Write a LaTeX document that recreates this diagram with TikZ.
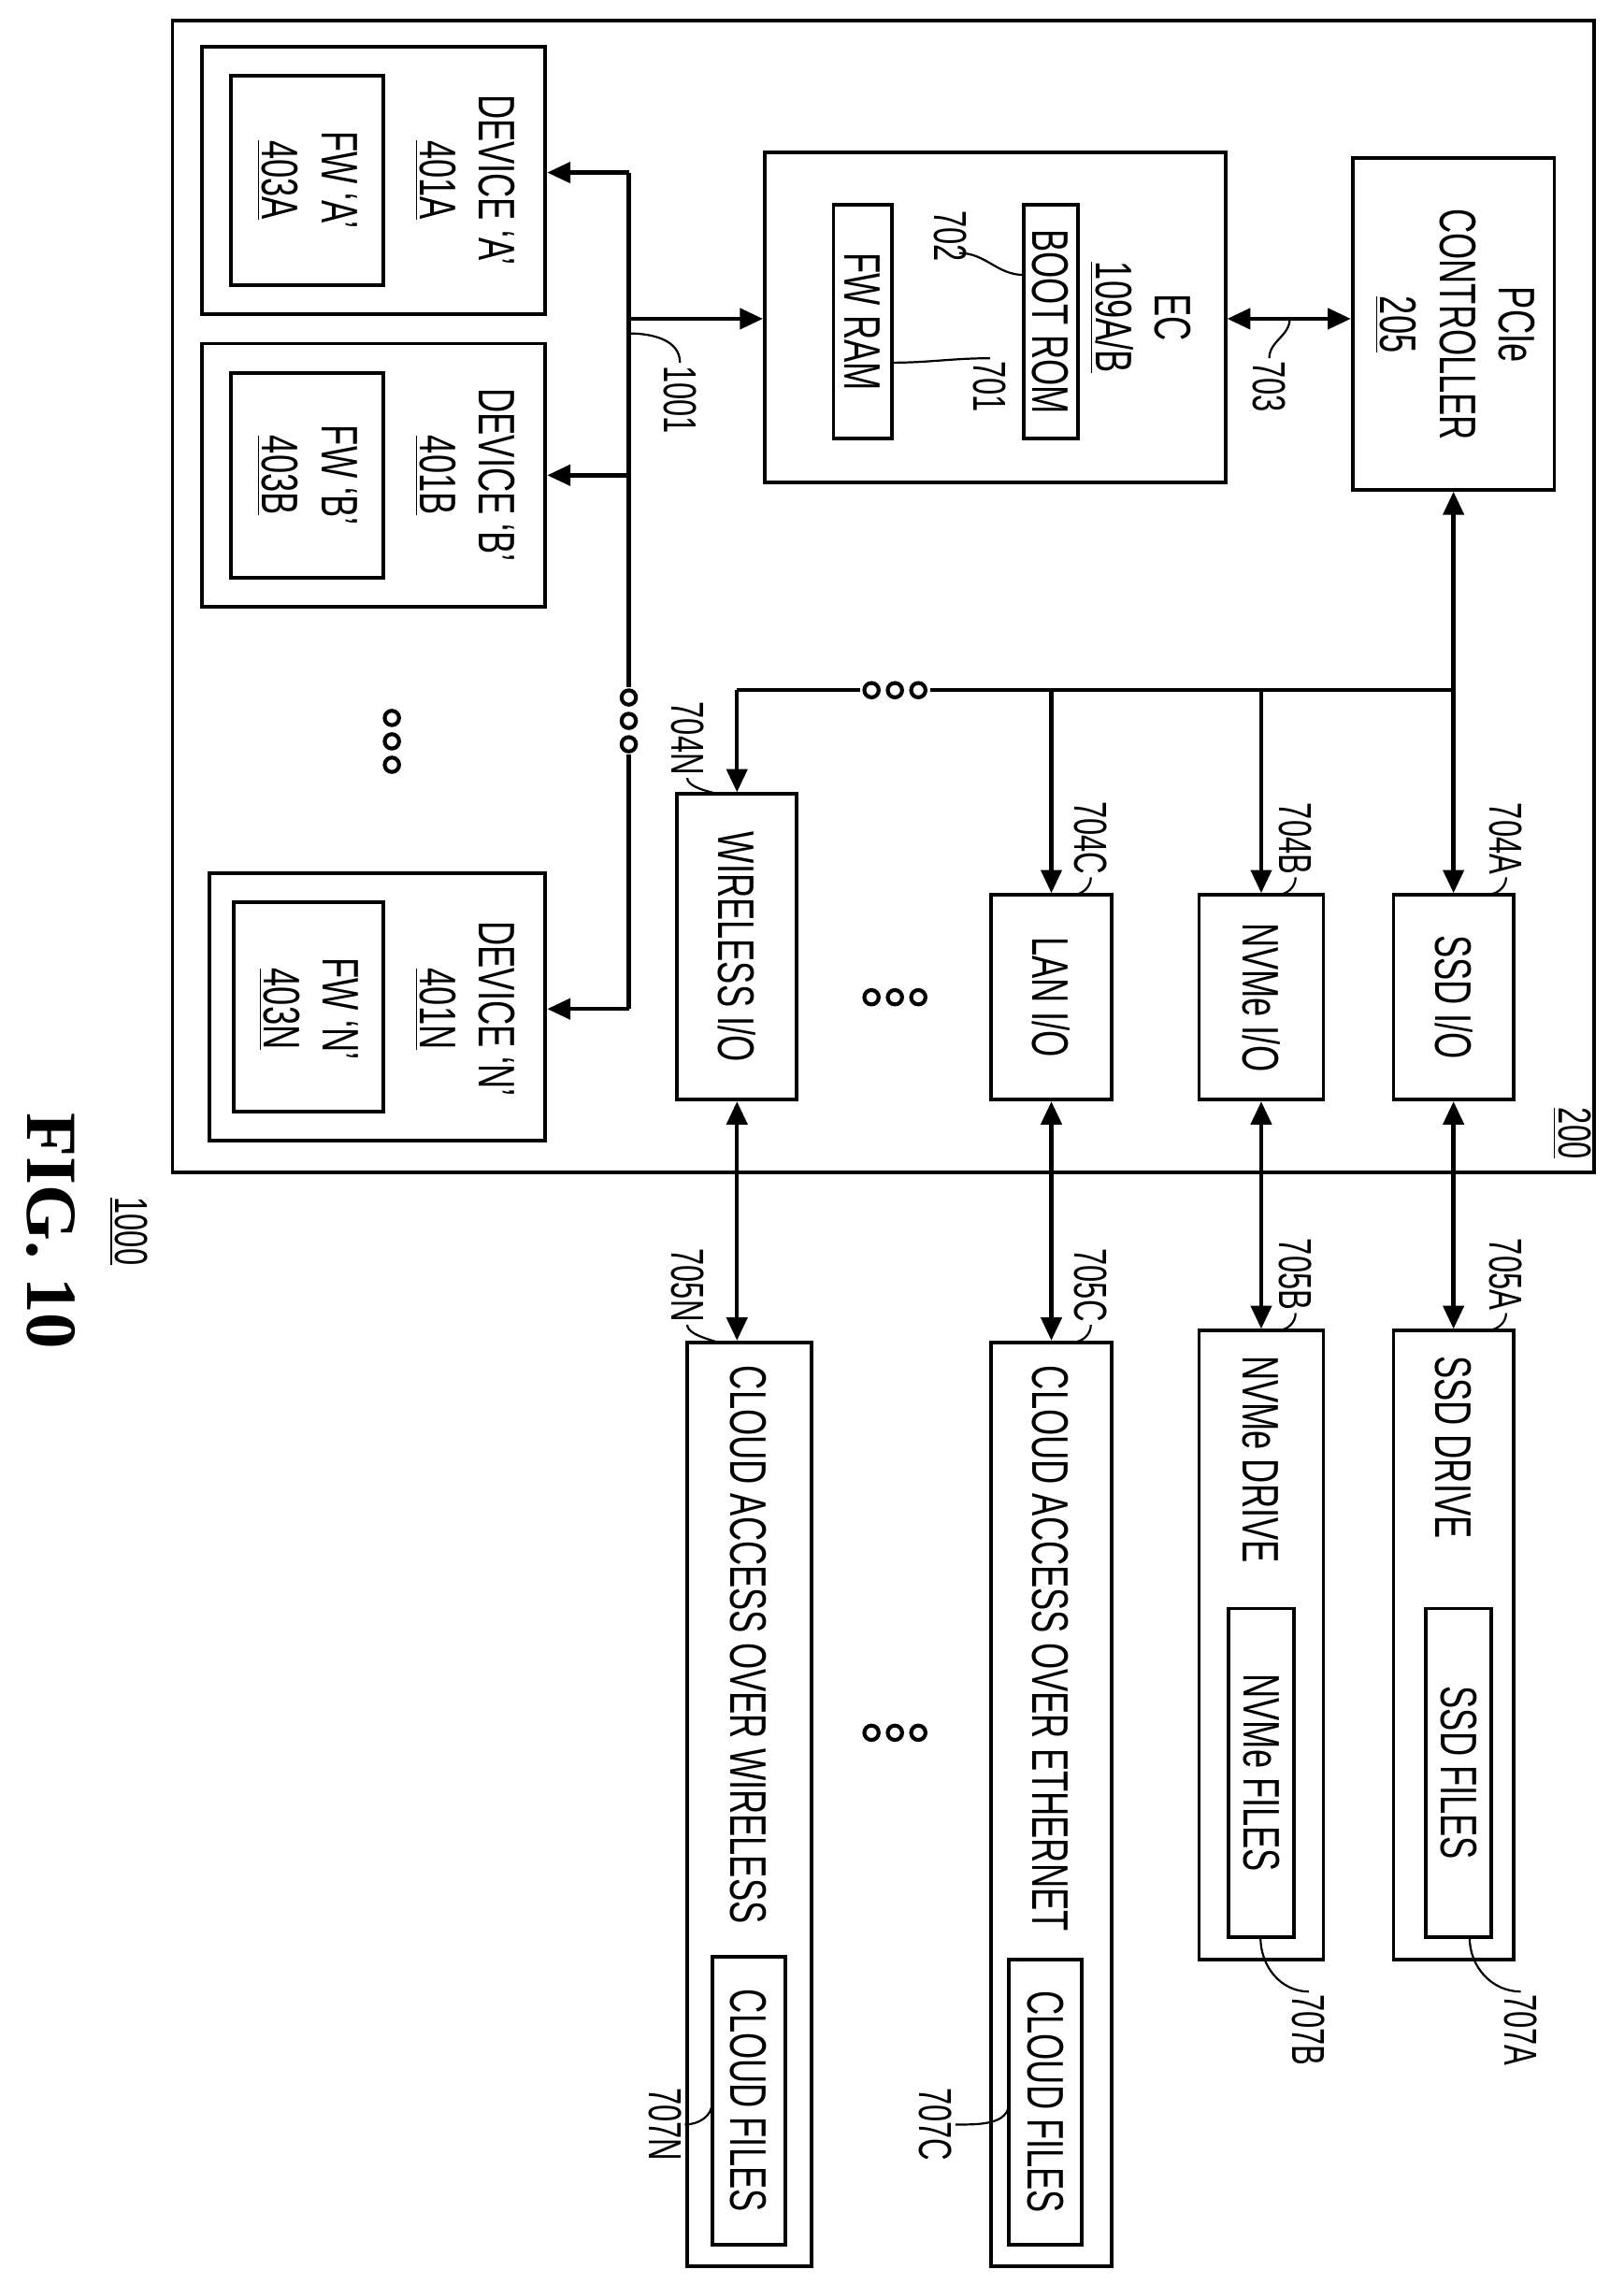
\documentclass[tikz,border=0pt]{standalone}
\usepackage{fontspec}
\setmainfont{Liberation Sans}
\newfontfamily\lblfont[FakeStretch=0.66]{Liberation Sans}
\newfontfamily\figfont{Liberation Serif}
\usetikzlibrary{arrows.meta, positioning, fit}

\tikzset{
  box/.style={draw, line width=1.4pt, fill=white, inner sep=0pt},
  txt/.style={rotate=-90, font=\fontsize{20}{23}\selectfont\lblfont, align=center, inner sep=1pt},
  num/.style={rotate=-90, font=\fontsize{18}{20}\selectfont\lblfont, inner sep=1pt},
  link/.style={line width=1.6pt, -{Triangle[length=9pt,width=8pt]}},
  dlink/.style={line width=1.6pt, {Triangle[length=9pt,width=8pt]}-{Triangle[length=9pt,width=8pt]}},
  lead/.style={line width=0.8pt},
  dotc/.style={line width=1.5pt}
}
\newcommand\dotsrow[1]{\foreach \d in {-1,0,1} \draw[dotc, shift={#1}] (\d*16,0) circle (2.8pt);}
\newcommand\dotscol[1]{\foreach \d in {-1,0,1} \draw[dotc, shift={#1}] (0,\d*16) circle (2.8pt);}

\begin{document}
\begin{tikzpicture}[x=0.02cm, y=-0.02cm]
  \useasboundingbox (0,0) rectangle (1110,1562);

  % system 200
  \node[box, fit={(118,14)(1090,802)}] (sys) {};
  \node[num] (l200) at (1075,775) {\underline{200}};

  % devices
  \node[box, fit={(138,32)(373,215)}] (devA) {};
  \node[box, fit={(158,52)(262,195)}] (fwA) {};
  \node[txt] (devAt) at (318,123) {DEVICE ‘A’\\\underline{401A}};
  \node[txt] (fwAt) at (210,123) {FW ‘A’\\\underline{403A}};

  \node[box, fit={(138,235)(373,415)}] (devB) {};
  \node[box, fit={(158,255)(262,395)}] (fwB) {};
  \node[txt] (devBt) at (318,325) {DEVICE ‘B’\\\underline{401B}};
  \node[txt] (fwBt) at (210,325) {FW ‘B’\\\underline{403B}};

  \node[box, fit={(143,597)(373,780)}] (devN) {};
  \node[box, fit={(160,617)(262,760)}] (fwN) {};
  \node[txt] (devNt) at (318,690) {DEVICE ‘N’\\\underline{401N}};
  \node[txt] (fwNt) at (211,690) {FW ‘N’\\\underline{403N}};
  \dotscol{(268,507)}

  % EC
  \node[box, fit={(523,104)(838,330)}] (ec) {};
  \node[txt] (ect) at (780,217) {EC\\\underline{109A/B}};
  \node[box, fit={(700,140)(737,300)}] (rom) {};
  \node[txt] at (rom.center) {BOOT ROM};
  \node[box, fit={(570,140)(610,300)}] (ram) {};
  \node[txt] at (ram.center) {FW RAM};
  \node[num, anchor=west] (l702) at (650,142) {702};
  \draw[lead] (l702.east) ++(6,-8) to[out=0,in=180] (700,188);
  \node[num, anchor=west] (l701) at (677,245) {701};
  \draw[lead] (610,248) to[out=0,in=180] (l701.west);

  % PCIe controller
  \node[box, fit={(925,108)(1063,335)}] (pcie) {};
  \node[txt] (pciet) at (995,222) {PCIe\\CONTROLLER\\\underline{205}};
  \draw[dlink] (ec.east |- 0,218) -- (pcie.west |- 0,218);
  \node[num, anchor=west] (l703) at (868,245) {703};
  \draw[lead] (882,218) to[out=-90,in=90] (l703.west);

  % device bus
  \coordinate (bA) at (430,118);
  \coordinate (bE) at (430,218);
  \coordinate (bB) at (430,325);
  \coordinate (bN) at (430,690);
  \draw[line width=1.6pt] (bA) -- (430,470) (430,516) -- (bN);
  \dotscol{(430,493)}
  \draw[link] (bA) -- (bA -| devA.east);
  \draw[link] (bB) -- (bB -| devB.east);
  \draw[link] (bN) -- (bN -| devN.east);
  \draw[link] (bE) -- (bE -| ec.west);
  \node[num, anchor=west] (l1001) at (465,248) {1001};
  \draw[lead] (430,228) to[out=0,in=90] (l1001.west);

  % I/O blocks
  \node[box, fit={(953,612)(1035,752)}] (ssdio) {};
  \node[txt] at (ssdio.center) {SSD I/O};
  \node[box, fit={(820,612)(905,752)}] (nvmeio) {};
  \node[txt] at (nvmeio.center) {NVMe I/O};
  \node[box, fit={(678,612)(760,752)}] (lanio) {};
  \node[txt] at (lanio.center) {LAN I/O};
  \node[box, fit={(463,543)(545,752)}] (wlio) {};
  \node[txt] at (wlio.center) {WIRELESS I/O};
  \dotsrow{(612,682)}

  % I/O bus
  \coordinate (pj) at (994,472);
  \draw[dlink] (pcie.south) -- (ssdio.north);
  \draw[line width=1.6pt] (pj) -- (636,472) (588,472) -- (504,472);
  \dotsrow{(612,472)}
  \draw[link] (nvmeio.north |- pj) -- (nvmeio.north);
  \draw[link] (lanio.north |- pj) -- (lanio.north);
  \draw[link] (504,472) -- (wlio.north);

  \node[num, anchor=east] (l704a) at (1030,600) {704A};
  \draw[lead] (l704a.east) to[out=-90,in=0] (1016,612);
  \node[num, anchor=east] (l704b) at (886,600) {704B};
  \draw[lead] (l704b.east) to[out=-90,in=0] (873,612);
  \node[num, anchor=east] (l704c) at (746,600) {704C};
  \draw[lead] (l704c.east) to[out=-90,in=0] (733,612);
  \node[num, anchor=east] (l704n) at (470,532) {704N};
  \draw[lead] (l704n.east) to[out=-90,in=0] (488,543);

  % drives
  \node[box, fit={(953,910)(1035,1340)}] (ssddr) {};
  \node[txt, anchor=west] at (994,925) {SSD DRIVE};
  \node[box, fit={(975,1100)(1020,1325)}] (ssdf) {};
  \node[txt] at (ssdf.center) {SSD FILES};

  \node[box, fit={(820,910)(905,1340)}] (nvmedr) {};
  \node[txt, anchor=west] at (862,925) {NVMe DRIVE};
  \node[box, fit={(840,1100)(885,1325)}] (nvmef) {};
  \node[txt] at (nvmef.center) {NVMe FILES};

  \node[box, fit={(678,918)(760,1550)}] (cleth) {};
  \node[txt, anchor=west] at (718,932) {CLOUD ACCESS OVER ETHERNET};
  \node[box, fit={(690,1340)(740,1535)}] (ethf) {};
  \node[txt] at (ethf.center) {CLOUD FILES};

  \node[box, fit={(470,918)(555,1550)}] (clwl) {};
  \node[txt, anchor=west] at (512,932) {CLOUD ACCESS OVER WIRELESS};
  \node[box, fit={(487,1338)(537,1535)}] (wlf) {};
  \node[txt] at (wlf.center) {CLOUD FILES};
  \dotsrow{(612,1185)}

  \draw[dlink] (ssdio.south) -- (ssdio.south |- ssddr.north);
  \draw[dlink] (nvmeio.south) -- (nvmeio.south |- nvmedr.north);
  \draw[dlink] (lanio.south) -- (lanio.south |- cleth.north);
  \draw[dlink] (wlio.south) -- (wlio.south |- clwl.north);

  \node[num, anchor=east] (l705a) at (1030,898) {705A};
  \draw[lead] (l705a.east) to[out=-90,in=0] (1016,910);
  \node[num, anchor=east] (l705b) at (886,898) {705B};
  \draw[lead] (l705b.east) to[out=-90,in=0] (873,910);
  \node[num, anchor=east] (l705c) at (746,906) {705C};
  \draw[lead] (l705c.east) to[out=-90,in=0] (733,918);
  \node[num, anchor=east] (l705n) at (470,906) {705N};
  \draw[lead] (l705n.east) to[out=-90,in=0] (488,918);

  \node[num, anchor=west] (l707a) at (1040,1362) {707A};
  \draw[lead] (1005,1325) to[out=-90,in=180] (l707a.west);
  \node[num, anchor=west] (l707b) at (895,1362) {707B};
  \draw[lead] (862,1325) to[out=-90,in=180] (l707b.west);
  \node[num, anchor=east] (l707c) at (640,1480) {707C};
  \draw[lead] (l707c.north) to[out=0,in=-90] (690,1438);
  \node[num, anchor=east] (l707n) at (455,1480) {707N};
  \draw[lead] (l707n.north) to[out=0,in=-90] (487,1438);

  % figure caption
  \node[num] (l1000) at (88,842) {\underline{1000}};
  \node[rotate=-90, font=\fontsize{28}{30}\selectfont\figfont\bfseries] (fig) at (35,842) {FIG. 10};
\end{tikzpicture}
\end{document}
